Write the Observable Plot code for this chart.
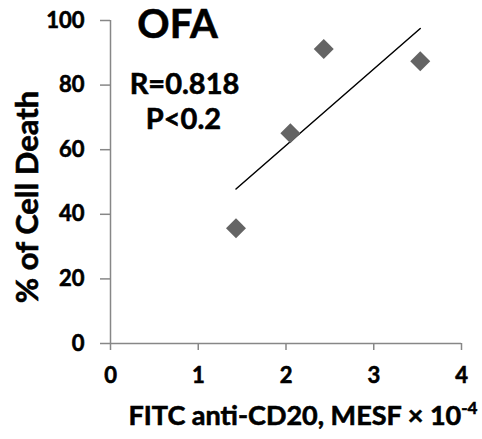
<!DOCTYPE html>
<html>
<head>
<meta charset="utf-8">
<script src="https://cdn.jsdelivr.net/npm/d3@7"></script>
<script src="https://cdn.jsdelivr.net/npm/@observablehq/plot@0.6"></script>
<style>
  html, body { margin: 0; padding: 0; background: #fff; }
  svg text { font-family: Lato, "Open Sans", sans-serif; font-weight: bold; stroke: #000; stroke-width: 0.6px; paint-order: fill; }
</style>
</head>
<body>
<div id="chart"></div>
<script>
// Data
const fitc = [1.43, 2.05, 2.43, 3.53];          // FITC anti-CD20, MESF × 10^-4
const cellDeath = [35.7, 65.1, 91.2, 87.4];     // % of Cell Death
const xTicks = [0, 1, 2, 3, 4];
const yTicks = [0, 20, 40, 60, 80, 100];
const panelTitle = "OFA";
const statR = "R=0.818";
const statP = "P<0.2";
const xLabelMain = "FITC anti-CD20, MESF × 10";
const xLabelSup = "-4";
const yLabel = "% of Cell Death";

const data = fitc.map((x, i) => ({x, y: cellDeath[i]}));
const axisGray = "#878787";

const chart = Plot.plot({
  width: 482,
  height: 439,
  marginLeft: 110,
  marginRight: 21,
  marginTop: 20,
  marginBottom: 96,
  style: {fontFamily: "Lato, sans-serif", fontWeight: "bold", background: "white"},
  x: {domain: [0, 4]},
  y: {domain: [0, 100]},
  marks: [
    Plot.ruleX([0], {stroke: axisGray, strokeWidth: 1.5}),
    Plot.ruleY([0], {stroke: axisGray, strokeWidth: 1.5}),
    Plot.axisY({ticks: yTicks, tickFormat: d => String(d), tickSize: 10, tickPadding: 16, fontSize: 22, fontWeight: "bold", stroke: axisGray, strokeWidth: 1.5, fill: "black", label: null}),
    Plot.axisX({ticks: xTicks, tickFormat: d => String(d), tickSize: 7, tickPadding: 17, fontSize: 22, fontWeight: "bold", stroke: axisGray, strokeWidth: 1.5, fill: "black", label: null}),
    Plot.linearRegressionY(data, {x: "x", y: "y", ci: 0, stroke: "black", strokeWidth: 1.5}),
    Plot.dot(data, {x: "x", y: "y", symbol: "diamond2", r: 9, fill: "#646464", stroke: "none"}),
    Plot.text([panelTitle], {text: d => d, frameAnchor: "top-left", lineAnchor: "middle", dx: 67, dy: 5, fontSize: 40, fontWeight: "bold", fill: "black", textAnchor: "middle"}),
    Plot.text([statR], {text: d => d, frameAnchor: "top-left", lineAnchor: "middle", dx: 74, dy: 64, fontSize: 29, fontWeight: "bold", fill: "black", textAnchor: "middle"}),
    Plot.text([statP], {text: d => d, frameAnchor: "top-left", lineAnchor: "middle", dx: 73, dy: 99, fontSize: 29, fontWeight: "bold", fill: "black", textAnchor: "middle"}),
    Plot.text([yLabel], {text: d => d, frameAnchor: "left", lineAnchor: "middle", rotate: -90, dx: -82, dy: 15, fontSize: 31, fontWeight: "bold", fill: "black", textAnchor: "middle"}),
    Plot.text([xLabelMain], {text: d => d, frameAnchor: "bottom", lineAnchor: "middle", dx: 17, dy: 73, fontSize: 27, fontWeight: "bold", fill: "black", textAnchor: "middle", className: "xlab"})
  ]
});

document.getElementById("chart").appendChild(chart);

// add superscript to x label
const xl = chart.querySelector(".xlab text");
if (xl) {
  const sup = document.createElementNS("http://www.w3.org/2000/svg", "tspan");
  sup.setAttribute("dy", "-11");
  sup.setAttribute("font-size", "17");
  sup.textContent = xLabelSup;
  xl.appendChild(sup);
}
</script>
</body>
</html>
